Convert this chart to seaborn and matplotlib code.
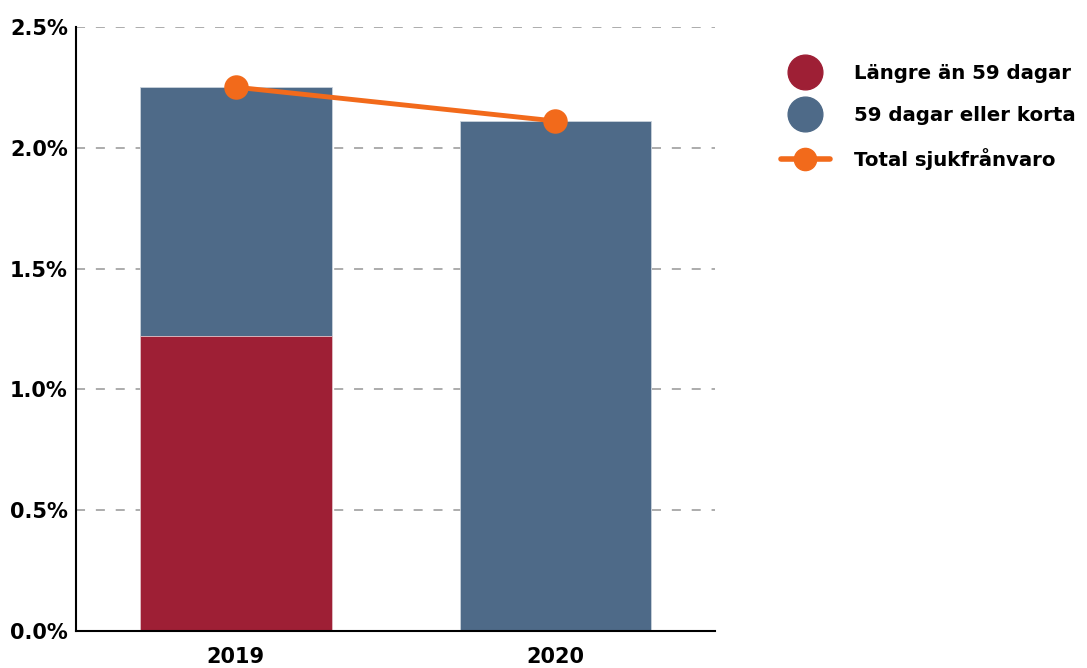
import numpy as np
import pandas as pd
import seaborn as sns
import matplotlib.pyplot as plt
from matplotlib.lines import Line2D
from matplotlib.ticker import FuncFormatter

years = ["2019", "2020"]
langre = [1.22, 0.0]        # Längre än 59 dagar
kortare = [1.03, 2.11]      # 59 dagar eller korta
total = [2.25, 2.11]        # Total sjukfrånvaro

red = "#9e1f35"
blue = "#4e6a88"
orange = "#f26a1b"

sns.set_style("white")
plt.rcParams["font.family"] = ["DejaVu Sans"]
plt.rcParams["font.weight"] = "bold"
plt.rcParams["text.color"] = "black"
plt.rcParams["xtick.color"] = "black"
plt.rcParams["ytick.color"] = "black"

df = pd.DataFrame({"year": years, "langre": langre, "kortare": kortare, "total": total})
df["stack_top"] = df["langre"] + df["kortare"]

fig, ax = plt.subplots(figsize=(10.87, 6.68), dpi=100)
fig.subplots_adjust(left=0.07, right=0.658, top=0.96, bottom=0.055)

# stacked bars: full height in blue, lower part in red on top of it
sns.barplot(data=df, x="year", y="stack_top", color=blue, width=0.6,
            saturation=1, edgecolor="#c9d2dc", linewidth=0.6, ax=ax)
sns.barplot(data=df[df["langre"] > 0], x="year", y="langre", color=red, width=0.6,
            saturation=1, edgecolor="#e6c4ca", linewidth=0.6, ax=ax, order=years)
sns.pointplot(data=df, x="year", y="total", color=orange, markers="o",
              markersize=15, linewidth=3.5, ax=ax, order=years)

ax.set_xlim(-0.5, 1.5)
ax.set_ylim(0, 2.5)
ax.set_yticks(np.arange(0, 2.51, 0.5))
ax.yaxis.set_major_formatter(FuncFormatter(lambda v, p: f"{v:.1f}%"))
ax.yaxis.grid(True, linestyle=(0, (5, 6)), color="#a6a6a6", linewidth=1.3)
ax.set_axisbelow(True)
ax.set_xlabel("")
ax.set_ylabel("")

for s in ["top", "right"]:
    ax.spines[s].set_visible(False)
for s in ["left", "bottom"]:
    ax.spines[s].set_color("black")
    ax.spines[s].set_linewidth(1.5)

ax.tick_params(axis="x", length=5, width=1.5, color="black", labelsize=15, pad=6)
ax.tick_params(axis="y", length=0, labelsize=15, pad=6)
for lab in ax.get_xticklabels() + ax.get_yticklabels():
    lab.set_fontweight("bold")

handles = [
    Line2D([], [], linestyle="none", marker="o", markersize=25, color=red),
    Line2D([], [], linestyle="none", marker="o", markersize=25, color=blue),
    Line2D([], [], color=orange, linewidth=4, marker="o", markersize=16),
]
labels = ["Längre än 59 dagar", "59 dagar eller korta", "Total sjukfrånvaro"]
leg = ax.legend(handles, labels, loc="upper left", bbox_to_anchor=(1.09, 0.951),
                frameon=False, fontsize=14.2, handlelength=2.5, handletextpad=1.2,
                labelspacing=1.15, borderaxespad=0)
for t in leg.get_texts():
    t.set_fontweight("bold")

fig.savefig("out.png", dpi=100)
